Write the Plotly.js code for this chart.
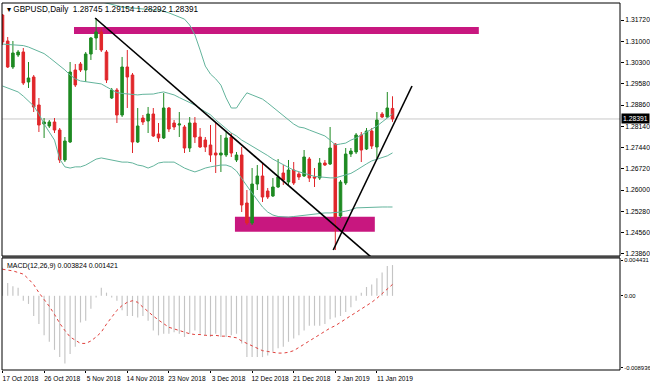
<!DOCTYPE html>
<html><head><meta charset="utf-8">
<script src="https://cdn.plot.ly/plotly-3.0.1.min.js"></script>
<style>html,body{margin:0;padding:0;background:#fff}#chart{width:650px;height:384px}</style>
</head><body><div id="chart"></div>
<script>
// ---- data (GBPUSD, Daily) ----
const dateLabels = ['17 Oct 2018','26 Oct 2018','5 Nov 2018','14 Nov 2018','23 Nov 2018','3 Dec 2018','12 Dec 2018','21 Dec 2018','2 Jan 2019','11 Jan 2019'];
const barsPerLabel = 8;

const open = [1.31888,1.31014,1.30139,1.30543,1.30644,1.29635,1.29803,1.28861,1.28222,1.28154,
1.28289,1.28020,1.27011,1.27616,1.30038,1.30240,1.30038,1.30576,1.31115,1.31317,
1.30644,1.29096,1.29365,1.28524,1.30139,1.29870,1.27616,1.28423,1.28323,1.28558,
1.27885,1.27751,1.28760,1.28255,1.28188,1.28121,1.27414,1.28255,1.27784,1.27683,
1.27515,1.27246,1.27179,1.27179,1.27784,1.27011,1.27179,1.25564,1.24891,1.26203,
1.26472,1.25968,1.25800,1.26102,1.26573,1.26271,1.26674,1.26540,1.26472,1.27044,
1.26439,1.26405,1.26910,1.26876,1.27549,1.25127,1.26237,1.27212,1.27280,1.27852,
1.27381,1.27986,1.27448,1.28558,1.28457,1.28745];
const high = [1.31922,1.31148,1.31014,1.30711,1.30778,1.30307,1.29870,1.29096,1.28423,1.28356,
1.28423,1.28087,1.27784,1.30307,1.30240,1.30307,1.30644,1.31148,1.31787,1.31451,
1.30711,1.29433,1.29433,1.30476,1.30711,1.29937,1.28760,1.28524,1.28794,1.28760,
1.28255,1.29264,1.28794,1.28356,1.28625,1.28188,1.28457,1.28457,1.28087,1.27784,
1.28188,1.28255,1.27852,1.27953,1.27919,1.27280,1.27448,1.26001,1.26741,1.26842,
1.26910,1.26069,1.26405,1.27044,1.26842,1.27011,1.26943,1.26607,1.27347,1.27112,
1.26741,1.27078,1.27011,1.28121,1.27582,1.26338,1.27414,1.27414,1.27919,1.27953,
1.28087,1.28087,1.28625,1.28625,1.29298,1.29154];
const low = [1.30879,1.30105,1.30072,1.30476,1.29534,1.29433,1.28625,1.27953,1.27751,1.28087,
1.27919,1.26910,1.26943,1.27582,1.29466,1.29971,1.29635,1.30375,1.30711,1.30644,
1.29601,1.29063,1.28255,1.28457,1.28760,1.27246,1.27582,1.28188,1.27919,1.27784,
1.27616,1.27717,1.27953,1.28020,1.27784,1.27246,1.27280,1.27582,1.27414,1.27280,
1.26943,1.26573,1.26607,1.27112,1.27112,1.26943,1.25261,1.24824,1.24824,1.26001,
1.25598,1.25699,1.25766,1.26069,1.26170,1.26170,1.26170,1.26338,1.26439,1.26271,
1.26102,1.26338,1.26809,1.26842,1.23983,1.25059,1.26170,1.27112,1.27212,1.26943,
1.27347,1.27381,1.27078,1.28423,1.28423,1.28292];
const close = [1.30980,1.30139,1.30610,1.30644,1.29601,1.29769,1.28794,1.28188,1.28289,1.28289,
1.28020,1.27011,1.27650,1.29971,1.29534,1.30038,1.30576,1.31115,1.31317,1.30711,
1.29702,1.29365,1.28524,1.30139,1.29803,1.27616,1.28154,1.28289,1.28558,1.27818,
1.27751,1.28760,1.28053,1.28121,1.28222,1.27414,1.28255,1.27784,1.27448,1.27448,
1.27179,1.27179,1.27246,1.27751,1.27246,1.27179,1.25497,1.24891,1.26203,1.26472,
1.25766,1.25766,1.26102,1.26439,1.26338,1.26674,1.26237,1.26439,1.27112,1.26405,
1.26405,1.26910,1.26842,1.27414,1.25093,1.26271,1.27212,1.27313,1.27852,1.27347,
1.27986,1.27482,1.28356,1.28457,1.28760,1.28391];

const bbUpper = [1.3233,1.3236,1.3236,1.3243,1.3243,1.3249,1.3259,1.3283,1.3290,1.3296,
1.3307,1.3347,1.3354,1.3313,1.3276,1.3263,1.3243,1.3233,1.3239,1.3233,
1.3229,1.3223,1.3219,1.3216,1.3214,1.3212,1.3211,1.3209,1.3207,1.3206,
1.3206,1.3202,1.3196,1.3189,1.3182,1.3175,1.3155,1.3122,1.3071,1.3017,
1.2990,1.2974,1.2953,1.2910,1.2876,1.2876,1.2903,1.2927,1.2920,1.2913,
1.2906,1.2893,1.2879,1.2866,1.2849,1.2836,1.2822,1.2812,1.2809,1.2802,
1.2795,1.2790,1.2782,1.2768,1.2752,1.2755,1.2758,1.2768,1.2775,1.2785,
1.2795,1.2805,1.2815,1.2829,1.2842,1.2856];
const bbMiddle = [1.3091,1.3090,1.3088,1.3088,1.3086,1.3081,1.3074,1.3066,1.3059,1.3046,
1.3032,1.3021,1.3004,1.2987,1.2974,1.2967,1.2964,1.2962,1.2960,1.2957,
1.2947,1.2937,1.2928,1.2925,1.2923,1.2920,1.2920,1.2922,1.2923,1.2923,
1.2927,1.2930,1.2925,1.2920,1.2911,1.2903,1.2893,1.2886,1.2874,1.2863,
1.2853,1.2836,1.2822,1.2805,1.2792,1.2782,1.2768,1.2758,1.2748,1.2738,
1.2728,1.2716,1.2704,1.2694,1.2684,1.2676,1.2667,1.2661,1.2656,1.2651,
1.2646,1.2644,1.2642,1.2641,1.2641,1.2646,1.2651,1.2656,1.2666,1.2678,
1.2688,1.2698,1.2704,1.2708,1.2715,1.2725];
const bbLower = [1.2950,1.2943,1.2937,1.2930,1.2916,1.2900,1.2883,1.2856,1.2822,1.2795,
1.2768,1.2704,1.2678,1.2674,1.2678,1.2678,1.2684,1.2694,1.2704,1.2708,
1.2704,1.2701,1.2698,1.2694,1.2694,1.2691,1.2684,1.2681,1.2674,1.2681,
1.2691,1.2694,1.2694,1.2694,1.2684,1.2674,1.2667,1.2661,1.2667,1.2674,
1.2678,1.2681,1.2684,1.2684,1.2678,1.2664,1.2637,1.2614,1.2590,1.2566,
1.2543,1.2526,1.2516,1.2511,1.2509,1.2509,1.2511,1.2513,1.2516,1.2516,
1.2519,1.2521,1.2523,1.2523,1.2524,1.2526,1.2529,1.2533,1.2540,1.2541,
1.2541,1.2543,1.2543,1.2543,1.2543,1.2543];

const macdMain = [0.0035,0.0016,0.0012,0.0010,-0.0006,-0.0010,-0.0025,-0.0035,-0.0049,-0.0057,
-0.0067,-0.0076,-0.0084,-0.0072,-0.0063,-0.0033,-0.0031,-0.0016,-0.0002,0.0010,
0.0004,-0.0002,-0.0006,-0.0018,-0.0025,-0.0025,-0.0027,-0.0025,-0.0031,-0.0043,
-0.0049,-0.0047,-0.0047,-0.0045,-0.0047,-0.0051,-0.0047,-0.0043,-0.0047,-0.0049,
-0.0051,-0.0047,-0.0051,-0.0051,-0.0049,-0.0047,-0.0059,-0.0076,-0.0076,-0.0076,
-0.0076,-0.0074,-0.0069,-0.0065,-0.0063,-0.0057,-0.0053,-0.0049,-0.0043,-0.0037,
-0.0037,-0.0037,-0.0035,-0.0029,-0.0027,-0.0025,-0.0020,-0.0014,-0.0006,0.0004,
0.0011,0.0014,0.0022,0.0029,0.0037,0.003824];
const macdSignal = [0.0033,0.0032,0.0031,0.0029,0.0027,0.0021,0.0014,0.0004,-0.0004,-0.0013,
-0.0023,-0.0034,-0.0043,-0.0051,-0.0055,-0.0059,-0.0059,-0.0056,-0.0051,-0.0045,
-0.0035,-0.0026,-0.0018,-0.0012,-0.0008,-0.0006,-0.0008,-0.0014,-0.0020,-0.0025,
-0.0030,-0.0034,-0.0039,-0.0041,-0.0043,-0.0045,-0.0047,-0.0048,-0.0048,-0.0049,
-0.0049,-0.0049,-0.0050,-0.0050,-0.0051,-0.0052,-0.0056,-0.0059,-0.0062,-0.0065,
-0.0068,-0.0069,-0.0070,-0.0071,-0.0071,-0.0070,-0.0068,-0.0064,-0.0060,-0.0056,
-0.0052,-0.0048,-0.0043,-0.0040,-0.0037,-0.0033,-0.0029,-0.0025,-0.0021,-0.0017,
-0.0012,-0.0008,-0.0003,0.0003,0.0009,0.001421];

const priceTicks = [1.31720,1.31000,1.30300,1.29580,1.28860,1.28140,1.27440,1.26720,1.26000,1.25280,1.24560,1.23860];
const macdTicks = [0.004431, 0.0, -0.008936];
const macdTickText = ['0.004431','0.00','-0.008936'];

// zones: [fromBar, toBar, lowPrice, highPrice]
const resistanceZone = [13.75, 91.6, 1.31249, 1.31484];
const supportZone = [44.7, 71.6, 1.24598, 1.25103];
// trend lines: bar positions and prices
const downTrendX = [17.8, 72.5], downTrendY = [1.31787, 1.23500];
const upTrendX = [63.6, 78.75], upTrendY = [1.23983, 1.29500];

// ---- build ----
const n = close.length;
const idx = close.map((_, i) => i);
const last = n - 1;
const f5 = v => v.toFixed(5);
const FONT = 'Liberation Sans, Arial, sans-serif';
const bandColor = '#63b49c';

const traces = [
  {type:'scatter', mode:'lines', x:idx, y:bbUpper, line:{color:bandColor, width:1}, hoverinfo:'skip', xaxis:'x', yaxis:'y'},
  {type:'scatter', mode:'lines', x:idx, y:bbMiddle, line:{color:bandColor, width:1}, hoverinfo:'skip', xaxis:'x', yaxis:'y'},
  {type:'scatter', mode:'lines', x:idx, y:bbLower, line:{color:bandColor, width:1}, hoverinfo:'skip', xaxis:'x', yaxis:'y'},
  {type:'candlestick', x:idx, open:open, high:high, low:low, close:close, xaxis:'x', yaxis:'y',
   whiskerwidth:0,
   increasing:{line:{color:'#1e8a22', width:1}, fillcolor:'#1e8a22'},
   decreasing:{line:{color:'#e0262a', width:1}, fillcolor:'#e0262a'},
   hoverinfo:'skip'},
  {type:'scatter', mode:'lines', x:downTrendX, y:downTrendY, line:{color:'#000', width:1.6}, hoverinfo:'skip', xaxis:'x', yaxis:'y'},
  {type:'scatter', mode:'lines', x:upTrendX, y:upTrendY, line:{color:'#000', width:1.6}, hoverinfo:'skip', xaxis:'x', yaxis:'y'},
  {type:'bar', x:idx, y:macdMain, width:0.22, marker:{color:'#c4c4c4', line:{width:0}}, hoverinfo:'skip', xaxis:'x', yaxis:'y2'},
  {type:'scatter', mode:'lines', x:idx, y:macdSignal, line:{color:'#e0403c', width:1, dash:'dot'}, hoverinfo:'skip', xaxis:'x', yaxis:'y2'}
];

const mainDom = [0.3106, 1];
const macdDom = [0, 0.3052];

const layout = {
  width:650, height:384,
  margin:{l:2, r:30, t:3, b:14},
  paper_bgcolor:'#fff', plot_bgcolor:'#fff',
  showlegend:false,
  font:{family:FONT, size:7, color:'#000'},
  xaxis:{domain:[0,1], anchor:'y2', range:[-0.096, 118.75], showgrid:false, zeroline:false,
    tickvals:dateLabels.map((_, i) => i*barsPerLabel), ticktext:dateLabels,
    ticks:'outside', ticklen:2, tickcolor:'#000', tickangle:0, ticklabelshift:18, ticklabelstandoff:0,
    ticklabeloverflow:'allow',
    tickfont:{family:FONT, size:6.6, color:'#000'},
    rangeslider:{visible:false}, fixedrange:true},
  yaxis:{domain:mainDom, anchor:'x', side:'right', range:[1.23781, 1.32292], showgrid:false, zeroline:false,
    tickvals:priceTicks, ticktext:priceTicks.map(f5), ticks:'outside', ticklen:3, tickcolor:'#000',
    tickfont:{family:FONT, size:6.8, color:'#000'}, fixedrange:true},
  yaxis2:{domain:macdDom, anchor:'x', side:'right', range:[-0.0092, 0.0047], showgrid:false, zeroline:false,
    tickvals:macdTicks, ticktext:macdTickText, ticks:'outside', ticklen:2, tickcolor:'#000',
    ticklabelstandoff:0, ticklabeloverflow:'allow',
    tickfont:{family:FONT, size:5.9, color:'#000'}, fixedrange:true},
  shapes:[
    {type:'line', layer:'below', xref:'paper', x0:0, x1:1, yref:'y', y0:close[last], y1:close[last], line:{color:'#c8c8c8', width:1}},
    {type:'rect', layer:'below', xref:'x', yref:'y', x0:resistanceZone[0], x1:resistanceZone[1], y0:resistanceZone[2], y1:resistanceZone[3], fillcolor:'#c8177f', line:{width:0}},
    {type:'rect', layer:'below', xref:'x', yref:'y', x0:supportZone[0], x1:supportZone[1], y0:supportZone[2], y1:supportZone[3], fillcolor:'#c8177f', line:{width:0}},
    {type:'rect', layer:'above', xref:'paper', yref:'paper', x0:0, x1:1, y0:macdDom[1], y1:mainDom[0], fillcolor:'#8c8c8c', line:{width:0}},
    {type:'rect', layer:'above', xref:'paper', yref:'paper', x0:0, x1:1, y0:mainDom[0], y1:mainDom[1], line:{color:'#000', width:1}},
    {type:'rect', layer:'above', xref:'paper', yref:'paper', x0:0, x1:1, y0:macdDom[0], y1:macdDom[1], line:{color:'#000', width:1}}
  ],
  annotations:[
    {xref:'paper', yref:'paper', x:0, y:1, xanchor:'left', yanchor:'top', xshift:3, yshift:0, showarrow:false,
     text:'\u25BE GBPUSD,Daily  ' + [open[last], high[last], low[last], close[last]].map(f5).join(' '),
     font:{family:FONT, size:8.2, color:'#000'}},
    {xref:'paper', yref:'paper', x:0, y:macdDom[1], xanchor:'left', yanchor:'top', xshift:3, yshift:-2, showarrow:false,
     text:'MACD(12,26,9) ' + macdMain[last].toFixed(6) + ' ' + macdSignal[last].toFixed(6),
     font:{family:FONT, size:7, color:'#000'}},
    {xref:'paper', yref:'y', x:1, y:close[last], xanchor:'left', yanchor:'middle', xshift:1, showarrow:false,
     text:f5(close[last]), bgcolor:'#000', borderpad:1, font:{family:FONT, size:6.8, color:'#fff'}}
  ]
};

Plotly.newPlot('chart', traces, layout, {staticPlot:true, displayModeBar:false});
</script></body></html>
